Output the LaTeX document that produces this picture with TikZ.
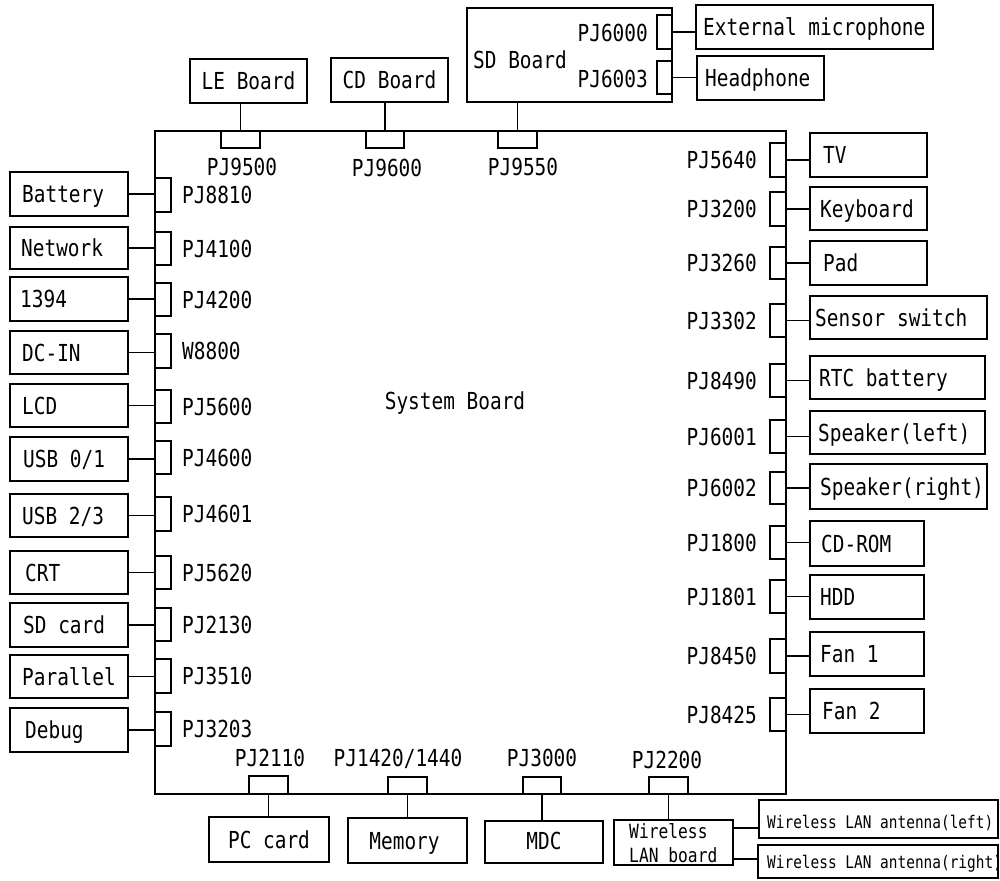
\documentclass[tikz,border=0pt]{standalone}
\usepackage{fontspec}
\newfontfamily\gothic{DejaVu Sans Mono}[FakeStretch=0.83]
\newcommand\mybox[6]{\node[#1, minimum width={#4-#2}, minimum height={#5-#3}] (#6) at (#2,#3) {};}
\tikzset{
  box/.style={draw, line width=1.6pt, inner sep=0pt, outer sep=0pt, anchor=north west},
  boardbox/.style={draw, line width=1.8pt, inner sep=0pt, outer sep=0pt, anchor=north west},
  conn/.style={draw, line width=1.4pt, inner sep=0pt, outer sep=0pt, anchor=north west},
  wire/.style={line width=1.4pt},
  lbl/.style={inner sep=0pt, font=\gothic\fontsize{23.4}{26}\selectfont, text height=17pt, text depth=0pt},
  slbl/.style={inner sep=0pt, font=\gothic\fontsize{19.6}{22}\selectfont, text height=14.3pt, text depth=0pt},
  xlbl/.style={inner sep=0pt, font=\gothic\fontsize{17.4}{20}\selectfont, text height=12.7pt, text depth=0pt},
}
\begin{document}
\begin{tikzpicture}[x=1pt, y=-1pt]
\useasboundingbox (0,0) rectangle (1000,880);
% system board
\mybox{boardbox}{155}{131}{786}{794}{board}
\node[lbl] (sysb) at (455,401) {System Board};

% left side
\foreach \n/\ya/\yb/\ca/\cb/\txt/\pj/\tx in {
 bat/172/216/178/212/Battery/PJ8810/12,
 net/227/269/232/265/Network/PJ4100/11,
 fw/277/321/283/316/1394/PJ4200/10,
 dc/331/374/334/368/DC-IN/W8800/12,
 lcd/384/427/390/423/LCD/PJ5600/12,
 usba/437/481/441/474/{USB 0/1}/PJ4600/13,
 usbb/494/537/497/531/{USB 2/3}/PJ4601/12,
 crt/551/594/556/589/CRT/PJ5620/15,
 sdc/603/647/608/641/{SD card}/PJ2130/13,
 par/655/698/659/693/Parallel/PJ3510/12,
 dbg/708/752/712/746/Debug/PJ3203/15}{
 \mybox{box}{10}{\ya}{128}{\yb}{\n}
 \mybox{conn}{155}{\ca}{171}{\cb}{c\n}
 \node[lbl, anchor=west] (t\n) at ([xshift=\tx]\n.west) {\txt};
 \node[lbl, anchor=west] (p\n) at ([xshift=11]c\n.east) {\pj};
 \draw[wire] (\n.east) -- (\n.east -| board.west);
}

% right side
\foreach \n/\xb/\ya/\yb/\ca/\cb/\txt/\pj/\tx in {
 tv/927/133/177/143/177/TV/PJ5640/13,
 kb/927/187/230/192/226/Keyboard/PJ3200/10,
 pad/927/241/285/247/279/Pad/PJ3260/13,
 sens/987/296/339/304/337/{Sensor switch}/PJ3302/5,
 rtc/985/356/399/364/397/{RTC battery}/PJ8490/9,
 spl/985/411/454/420/453/{Speaker(left)}/PJ6001/8,
 spr/987/464/509/472/504/{Speaker(right)}/PJ6002/10,
 cdr/924/521/566/526/559/CD-ROM/PJ1800/11,
 hdd/924/575/619/580/613/HDD/PJ1801/10,
 fana/924/632/676/639/673/{Fan 1}/PJ8450/10,
 fanb/924/689/733/698/731/{Fan 2}/PJ8425/12}{
 \mybox{box}{810}{\ya}{\xb}{\yb}{\n}
 \mybox{conn}{770}{\ca}{786}{\cb}{c\n}
 \node[lbl, anchor=west] (t\n) at ([xshift=\tx]\n.west) {\txt};
 \node[lbl, anchor=east] (p\n) at ([xshift=-13]c\n.west) {\pj};
 \draw[wire] (c\n.east) -- (c\n.east -| \n.west);
}

% top boards
\mybox{box}{190}{59}{307}{103}{le}
\node[lbl] (tle) at (le.center) {LE Board};
\mybox{conn}{221}{131}{260}{148}{cle}
\node[lbl] (ple) at (242,167) {PJ9500};
\draw[wire] (cle.north) -- (cle.north |- le.south);

\mybox{box}{331}{58}{448}{102}{cd}
\node[lbl] (tcd) at (cd.center) {CD Board};
\mybox{conn}{366}{131}{404}{148}{ccd}
\node[lbl] (pcd) at (387,168) {PJ9600};
\draw[wire] (ccd.north) -- (ccd.north |- cd.south);

\mybox{box}{467}{8}{672}{102}{sdb}
\node[lbl, anchor=west] (tsdb) at (473,60) {SD Board};
\mybox{conn}{498}{131}{537}{148}{csdb}
\node[lbl] (psdb) at (523,167) {PJ9550};
\draw[wire] (csdb.north) -- (csdb.north |- sdb.south);

\mybox{conn}{657}{15}{672}{49}{cmic}
\mybox{conn}{657}{61}{672}{94}{chp}
\node[lbl, anchor=east] (pmic) at (648,33) {PJ6000};
\node[lbl, anchor=east] (php) at (648,79) {PJ6003};
\mybox{box}{696}{5}{933}{49}{mic}
\node[lbl, anchor=west] (tmic) at ([xshift=7]mic.west) {External microphone};
\mybox{box}{697}{56}{824}{100}{hp}
\node[lbl, anchor=west] (thp) at ([xshift=8]hp.west) {Headphone};
\draw[wire] (cmic.east) -- (cmic.east -| mic.west);
\draw[wire] (chp.east) -- (chp.east -| hp.west);

% bottom
\mybox{box}{209}{817}{329}{862}{pcc}
\node[lbl] (tpcc) at (pcc.center) {PC card};
\mybox{conn}{249}{776}{288}{794}{cpcc}
\node[lbl] (ppcc) at (270,758) {PJ2110};
\draw[wire] (cpcc.south) -- (cpcc.south |- pcc.north);

\mybox{box}{348}{818}{467}{863}{mem}
\node[lbl] (tmem) at ([xshift=-3]mem.center) {Memory};
\mybox{conn}{388}{777}{427}{794}{cmem}
\node[lbl] (pmem) at (398,758) {PJ1420/1440};
\draw[wire] (cmem.south) -- (cmem.south |- mem.north);

\mybox{box}{485}{821}{603}{863}{mdc}
\node[lbl] (tmdc) at ([yshift=1]mdc.center) {MDC};
\mybox{conn}{523}{777}{561}{794}{cmdc}
\node[lbl] (pmdc) at (542,758) {PJ3000};
\draw[wire] (cmdc.south) -- (cmdc.south |- mdc.north);

\mybox{box}{614}{820}{733}{865}{wl}
\node[slbl, anchor=west] (twla) at (629,831) {Wireless};
\node[slbl, anchor=west] (twlb) at (629,855) {LAN board};
\mybox{conn}{649}{777}{688}{794}{cwl}
\node[lbl] (pwl) at (667,760) {PJ2200};
\draw[wire] (cwl.south) -- (cwl.south |- wl.north);

\mybox{box}{759}{800}{998}{838}{antl}
\node[xlbl, anchor=west] (tantl) at (767,822) {Wireless LAN antenna(left)};
\mybox{box}{758}{845}{998}{878}{antr}
\node[xlbl, anchor=west] (tantr) at (767,862) {Wireless LAN antenna(right)};
\coordinate (wla) at (733,828);
\coordinate (wlb) at (733,859);
\draw[wire] (wla) -- (wla -| antl.west);
\draw[wire] (wlb) -- (wlb -| antr.west);
\end{tikzpicture}
\end{document}
